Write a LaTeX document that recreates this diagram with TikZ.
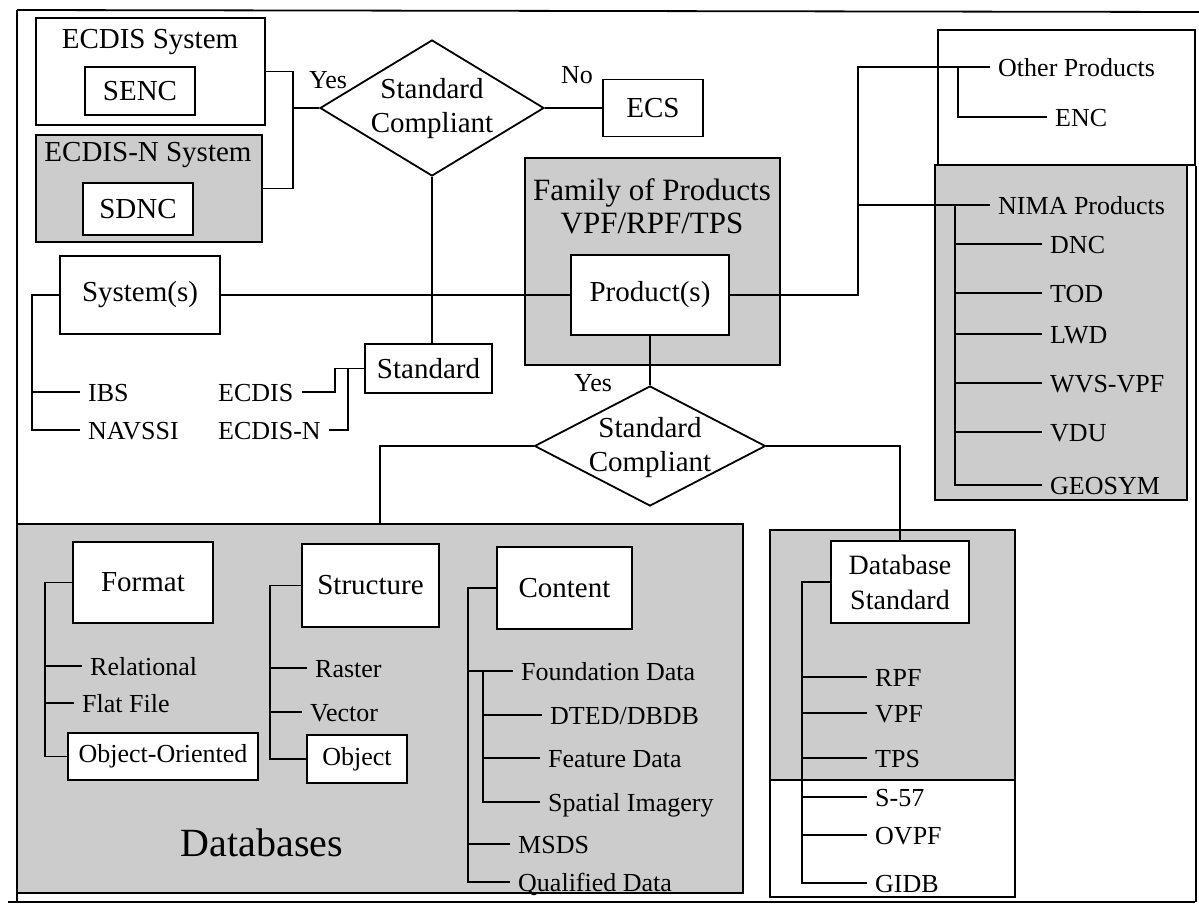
\documentclass[tikz,border=0pt]{standalone}
\usepackage{fontspec}
\setmainfont{Liberation Serif}
\usetikzlibrary{shapes.geometric}
\begin{document}
\begin{tikzpicture}[x=1pt,y=-1pt,
  ln/.style={line width=1.8pt},
  bx/.style={draw,line width=1.8pt,fill=white,inner sep=0pt},
  shd/.style={draw,line width=1.6pt,fill=black!20,inner sep=0pt},
  dia/.style={draw,line width=1.8pt,fill=white,diamond,inner sep=0pt},
  ttt/.style={font=\fontsize{26}{28}\selectfont,inner sep=0pt},
  big/.style={font=\fontsize{29}{34}\selectfont},
  lw/.style={font=\fontsize{26}{28}\selectfont,inner xsep=8pt,inner ysep=0pt,text height=18pt,text depth=0pt,anchor=west},
]
\useasboundingbox (0,0) rectangle (1199,910);
\fill[white] (0,0) rectangle (1199,910);
% outer frame
\draw[ln] (17,10) -- (1199,12);
\draw[ln] (17,10) -- (17,902);
\draw[line width=2.4pt] (8,902) -- (1195,902);

% ---- containers
\node[shd,minimum width=726pt,minimum height=369pt] (dbbox) at (380,708.5) {};
\fill[black!20] (770,530) rectangle (1015,780);
\node[draw,line width=1.6pt,inner sep=0pt,minimum width=245pt,minimum height=367pt] (dbr) at (892.5,713.5) {};
\draw[line width=1.6pt] (dbr.west |- 0,780) -- (dbr.east |- 0,780);
\node[draw,line width=1.6pt,inner sep=0pt,minimum width=257pt,minimum height=135pt] (othbox) at (1066.5,97.5) {};
\draw[line width=1.6pt] (othbox.south east) -- (othbox.south east |- 0,902);
\node[shd,minimum width=252pt,minimum height=335pt] (nimabox) at (1061,332.5) {};
\node[shd,minimum width=226pt,minimum height=107pt] (ecdisn) at (149,188.5) {};
\node[shd,minimum width=255pt,minimum height=207pt] (fam) at (652.5,261.5) {};

% ---- top-left systems
\node[bx,minimum width=229pt,minimum height=107pt] (ecdis) at (150.5,71.5) {};
\node[big] (ecdist) at (150,42) {ECDIS System};
\node[bx,big,minimum width=110pt,minimum height=48pt] (senc) at (140,91) {SENC};
\node[big] (ecdisnt) at (148,155) {ECDIS-N System};
\node[bx,big,minimum width=110pt,minimum height=52pt] (sdnc) at (138,209) {SDNC};

\node[dia,minimum width=224pt,minimum height=136pt] (d1) at (432,108) {};
\node[big,align=center] (d1t) at (432,109) {Standard\\Compliant};
\node[ttt] (yes1) at (328,80) {Yes};
\node[ttt] (no1) at (577,75) {No};
\node[bx,big,minimum width=100pt,minimum height=57pt] (ecs) at (653,108) {ECS};

\coordinate (j1) at (293,108);
\draw[ln] (ecdis.east) -| (j1) |- (ecdisn.east);
\draw[ln] (j1) -- (d1.west);
\draw[ln] (d1.east) -- (ecs.west);

% ---- systems / products row
\node[bx,big,minimum width=127pt,minimum height=49pt] (std) at (428.5,368.5) {Standard};
\node[bx,big,minimum width=160pt,minimum height=78pt] (sys) at (140,295) {System(s)};
\node[font=\fontsize{31}{33}\selectfont,align=center] (famt) at (652,206) {Family of Products\\VPF/RPF/TPS};
\node[bx,big,minimum width=158pt,minimum height=80pt] (prod) at (650,295) {Product(s)};

\draw[ln] (d1.south) -- (d1.south |- std.north);
\draw[ln] (sys.east) -- (prod.west);

\node[lw] (ibs) at (80,392) {IBS};
\node[lw] (navssi) at (80,430) {NAVSSI};
\coordinate (sb) at (32,295);
\draw[ln] (sys.west) -- (sb) |- (navssi.west);
\draw[ln] (sb |- ibs.west) -- (ibs.west);

\node[lw] (ecdisl) at (210,392) {ECDIS};
\node[lw] (ecdisnl) at (210,430) {ECDIS-N};
\coordinate (sj) at (335,368.5);
\draw[ln] (ecdisl.east) -| (sj) -- (std.west);
\draw[ln] (ecdisnl.east) -| (348,368.5);

% ---- right products
\node[lw] (othp) at (990,67) {Other Products};
\node[lw] (enc) at (1047,117) {ENC};
\node[lw] (nima) at (990,205) {NIMA Products};
\node[lw] (dnc) at (1042,244) {DNC};
\node[lw] (tod) at (1042,293) {TOD};
\node[lw] (lwd) at (1042,334) {LWD};
\node[lw] (wvs) at (1042,383) {WVS-VPF};
\node[lw] (vdu) at (1042,432) {VDU};
\node[lw] (geosym) at (1042,485) {GEOSYM};
\coordinate (pb) at (858,295);
\draw[ln] (prod.east) -- (pb) |- (othp.west);
\draw[ln] (pb |- nima.west) -- (nima.west);
\coordinate (eb) at (958,67);
\draw[ln] (eb) |- (enc.west);
\coordinate (nb) at (955,205);
\draw[ln] (nb) |- (geosym.west);
\foreach \n in {dnc,tod,lwd,wvs,vdu} \draw[ln] (nb |- \n.west) -- (\n.west);

% ---- lower diamond
\node[dia,minimum width=231pt,minimum height=120pt] (d2) at (650,446) {};
\node[big,align=center] (d2t) at (650,448) {Standard\\Compliant};
\node[ttt] (yes2) at (593,383) {Yes};
\draw[ln] (prod.south) -- (d2.north);

\node[bx,big,align=center,minimum width=138pt,minimum height=82pt,font=\fontsize{28}{35}\selectfont] (dbs) at (900,582) {Database\\Standard};
\draw[ln] (d2.west) -| (dbbox.north);
\draw[ln] (d2.east) -| (dbs.north);

% ---- database standard list
\node[lw] (rpf) at (867,677) {RPF};
\node[lw] (vpf) at (867,713) {VPF};
\node[lw] (tps) at (867,758) {TPS};
\node[lw] (s57) at (867,797) {S-57};
\node[lw] (ovpf) at (867,835) {OVPF};
\node[lw] (gidb) at (867,883) {GIDB};
\coordinate (db) at (802,582);
\draw[ln] (dbs.west) -- (db) |- (gidb.west);
\foreach \n in {rpf,vpf,tps,s57,ovpf} \draw[ln] (db |- \n.west) -- (\n.west);

% ---- databases
\node[bx,big,minimum width=140pt,minimum height=81pt] (fmt) at (143,582.5) {Format};
\node[bx,big,minimum width=137pt,minimum height=83pt] (str) at (370.5,585.5) {Structure};
\node[bx,big,minimum width=135pt,minimum height=82pt] (cont) at (564.5,588) {Content};
\node[bx,minimum width=190pt,minimum height=47pt,font=\fontsize{26}{28}\selectfont] (oo) at (163,756.5) {Object-Oriented};
\node[bx,minimum width=100pt,minimum height=48pt,font=\fontsize{26}{28}\selectfont] (obj) at (357,759) {Object};

\node[lw] (rel) at (82,666) {Relational};
\node[lw] (flat) at (74,703) {Flat File};
\coordinate (fb) at (45,582.5);
\draw[ln] (fmt.west) -- (fb) |- (oo.west);
\draw[ln] (fb |- rel.west) -- (rel.west);
\draw[ln] (fb |- flat.west) -- (flat.west);

\node[lw] (ras) at (307,668) {Raster};
\node[lw] (vec) at (302,712) {Vector};
\coordinate (stb) at (270,585.5);
\draw[ln] (str.west) -- (stb) |- (obj.west);
\draw[ln] (stb |- ras.west) -- (ras.west);
\draw[ln] (stb |- vec.west) -- (vec.west);

\node[lw] (found) at (513,671) {Foundation Data};
\node[lw] (dted) at (542,715) {DTED/DBDB};
\node[lw] (feat) at (540,758) {Feature Data};
\node[lw] (spat) at (540,802) {Spatial Imagery};
\node[lw] (msds) at (510,844) {MSDS};
\node[lw] (qual) at (510,882) {Qualified Data};
\coordinate (cb) at (468,588);
\draw[ln] (cont.west) -- (cb) |- (qual.west);
\draw[ln] (cb |- found.west) -- (found.west);
\draw[ln] (cb |- msds.west) -- (msds.west);
\coordinate (ib) at (483,671);
\draw[ln] (ib) |- (spat.west);
\draw[ln] (ib |- dted.west) -- (dted.west);
\draw[ln] (ib |- feat.west) -- (feat.west);

\node[font=\fontsize{40}{44}\selectfont] (dbl) at (262,843) {Databases};
\end{tikzpicture}
\end{document}
